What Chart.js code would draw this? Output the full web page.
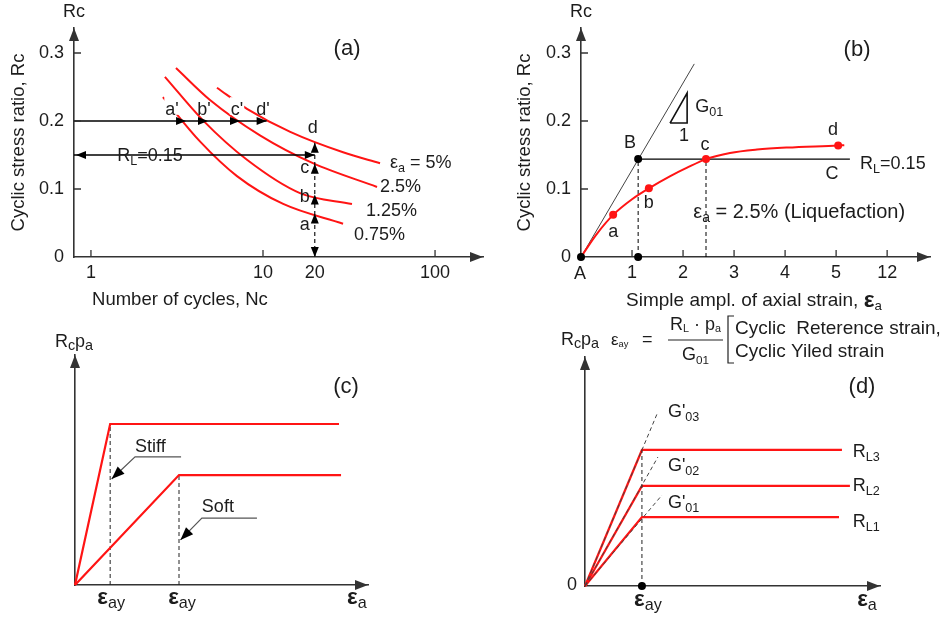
<!DOCTYPE html>
<html><head><meta charset="utf-8">
<script src="https://cdn.jsdelivr.net/npm/chart.js@4.4.1/dist/chart.umd.min.js"></script>
<style>
html,body{margin:0;padding:0;background:#fff;}
#wrap{position:relative;width:949px;height:621px;overflow:hidden;background:#fff;}
#wrap canvas{position:absolute;left:0;top:0;}
</style></head><body>
<div id="wrap">
<canvas id="ca" width="949" height="621"></canvas>
<canvas id="cb" width="949" height="621"></canvas>
<canvas id="cc" width="949" height="621"></canvas>
<canvas id="cd" width="949" height="621"></canvas>
</div>
<script>
// ================= DATA =================
// Panel (a): cyclic stress ratio vs number of cycles, one curve per strain level
const strainLevelsA = ['0.75%', '1.25%', '2.5%', '5%'];
const cyclesA075 = [2.62, 4.30, 7.06, 13.1, 29.2];
const rcA075     = [0.235, 0.170, 0.119, 0.078, 0.049];
const cyclesA125 = [2.69, 4.48, 8.07, 16.4, 32.9];
const rcA125     = [0.265, 0.201, 0.143, 0.094, 0.078];
const cyclesA25  = [3.12, 4.92, 9.6, 19.5, 46.0];
const rcA25      = [0.278, 0.231, 0.179, 0.138, 0.103];
const cyclesA5   = [5.40, 8.07, 14.4, 29.2, 47.9];
const rcA5       = [0.249, 0.218, 0.184, 0.154, 0.138];
const ncAxisMinA = 0.797, ncAxisMaxA = 190;
const rcCheckA = 0.2;                       // horizontal line Rc = 0.2
const ncCheckTipsA = [3.57, 4.79, 7.35, 10.5]; // a', b', c', d'
const primeLabelsA = ["a'", "b'", "c'", "d'"];
const rlA = 0.15;
const ncTargetA = 20;
const rcAtTargetA = [0.064, 0.092, 0.137, 0.168]; // a, b, c, d
const pointLabelsA = ['a', 'b', 'c', 'd'];
const xTicksA = [1, 10, 20, 100];
const yTicksRc = [0, 0.1, 0.2, 0.3];
const rcAxisMax = 0.3368;

// Panel (b): Rc vs simple amplitude of axial strain
const strainB = [0, 0.3, 0.63, 1.0, 1.33, 1.75, 2.07, 2.45, 2.92, 3.45, 4.04, 5.04, 5.16];
const rcB     = [0, 0.033, 0.062, 0.085, 0.101, 0.119, 0.131, 0.144, 0.153, 0.158, 0.161, 0.164, 0.1645];
const markStrainB = [0.63, 1.33, 2.45, 5.04];
const markRcB     = [0.062, 0.101, 0.144, 0.164];
const g01StrainB = [0, 2.22];
const g01RcB     = [0, 0.284];
const rlB = 0.144, strainAtB = 1.12, rlEndB = 5.27, strainLiqB = 2.45;
const triStrainB = [1.745, 2.08, 2.08, 1.745];
const triRcB     = [0.197, 0.241, 0.197, 0.197];
const xTicksB = [1, 2, 3, 4, 5, 6];
const xTickLabelsB = ['1', '2', '3', '4', '5', '12'];
const strainAxisMaxB = 6.84;

// Panel (c): stiff vs soft bilinear models
const stiffX = [0, 1.2, 9.01];
const stiffY = [0, 7.0, 7.0];
const softX  = [0, 3.55, 9.08];
const softY  = [0, 4.78, 4.78];
const stiffLeaderX = [3.62, 2.05, 1.25], stiffLeaderY = [5.57, 5.57, 4.61];
const softLeaderX  = [6.21, 4.33, 3.6],  softLeaderY  = [2.91, 2.91, 1.96];

// Panel (d): three reference strengths with a common yield strain
const yieldD = 1.93;
const rlLevelsD = [3.01, 4.37, 5.94];        // RL1, RL2, RL3
const rlEndD    = [8.61, 8.98, 8.71];
const gExtX     = [2.61, 2.47, 2.47];        // G'01, G'02, G'03 dashed ends
const gExtY     = [3.97, 5.63, 7.60];

// ================= STYLE / HELPERS =================
const FONT = '"Liberation Sans", Arial, Helvetica, sans-serif';
const TEXT = '#1c1c1c';
const AXIS = '#333333';
const RED = '#ff1414';
const W = 949, H = 621;
Chart.defaults.font.family = FONT;
Chart.defaults.color = TEXT;
Chart.defaults.animation = false;
Chart.defaults.events = [];

const pts = (xs, ys) => xs.map((x, i) => ({x, y: ys[i]}));
function line(data, color, width, extra) {
  return Object.assign({data, showLine: true, borderColor: color, backgroundColor: color, borderWidth: width,
    pointRadius: 0, pointHoverRadius: 0, fill: false, clip: false, tension: 0}, extra || {});
}
function dots(data, color, r, extra) {
  return Object.assign({data, showLine: false, pointRadius: r, pointBackgroundColor: color, pointBorderColor: color,
    pointBorderWidth: 0, clip: false}, extra || {});
}
function scaleCfg(o) {
  const c = {
    type: o.type || 'linear', min: o.min, max: o.max, position: o.pos,
    afterFit: s => { if (o.pos === 'left') s.width = o.size; else s.height = o.size; },
    grid: {display: true, drawOnChartArea: false, drawTicks: false},
    border: {display: true, color: AXIS, width: 1.6},
    ticks: {display: !!o.ticks, padding: o.pad || 8, font: {size: 18}, color: TEXT,
      callback: o.fmt || (v => String(v)), autoSkip: false, maxRotation: 0, minRotation: 0},
    title: o.title ? {display: true, text: o.title, font: {size: 18.5}, color: TEXT, padding: {top: 0, bottom: 0}} : {display: false}
  };
  if (o.ticks) c.afterBuildTicks = s => { s.ticks = o.ticks.map(v => ({value: v})); };
  return c;
}
function arrowHead(ctx, tx, ty, ang, len, hw, color) {
  const bx = tx - len * Math.cos(ang), by = ty - len * Math.sin(ang);
  const px = -Math.sin(ang) * hw, py = Math.cos(ang) * hw;
  ctx.save(); ctx.fillStyle = color; ctx.beginPath();
  ctx.moveTo(tx, ty); ctx.lineTo(bx + px, by + py); ctx.lineTo(bx - px, by - py); ctx.closePath(); ctx.fill();
  ctx.restore();
}
function axisArrows(ctx, ca) {
  arrowHead(ctx, ca.right, ca.bottom, 0, 13, 5, AXIS);
  arrowHead(ctx, ca.left, ca.top, -Math.PI / 2, 13, 5, AXIS);
}
function innerTicks(chart) {
  const ctx = chart.ctx, {x, y} = chart.scales, ca = chart.chartArea;
  ctx.save(); ctx.strokeStyle = AXIS; ctx.lineWidth = 1.3; ctx.beginPath();
  x.ticks.forEach(t => { const p = x.getPixelForValue(t.value); ctx.moveTo(p, ca.bottom); ctx.lineTo(p, ca.bottom - 7); });
  y.ticks.forEach(t => { if (t.value === 0) return; const p = y.getPixelForValue(t.value); ctx.moveTo(ca.left, p); ctx.lineTo(ca.left + 7, p); });
  ctx.stroke(); ctx.restore();
}
function parseRich(str) {
  const segs = [], re = /([_*])\{([^}]*)\}/g; let last = 0, m;
  while ((m = re.exec(str))) {
    if (m.index > last) segs.push({t: str.slice(last, m.index), k: ''});
    segs.push({t: m[2], k: m[1]}); last = re.lastIndex;
  }
  if (last < str.length) segs.push({t: str.slice(last), k: ''});
  return segs;
}
function rich(ctx, str, x, y, opt) {
  const o = Object.assign({size: 18, sub: 0.7, subDy: 0.3, bold: 1.25, align: 'left', color: TEXT}, opt || {});
  const segs = parseRich(str);
  const fontOf = s => s.k === '_' ? `${o.size * o.sub}px ${FONT}` : s.k === '*' ? `bold ${o.size * o.bold}px ${FONT}` : `${o.size}px ${FONT}`;
  let w = 0;
  segs.forEach(s => { ctx.font = fontOf(s); s.w = ctx.measureText(s.t).width; w += s.w; });
  let cx = o.align === 'center' ? x - w / 2 : o.align === 'right' ? x - w : x;
  ctx.save();
  if (o.bg) { ctx.fillStyle = '#fff'; ctx.fillRect(cx - 1, y - 0.72 * o.size, w + 2, 0.98 * o.size); }
  ctx.fillStyle = o.color; ctx.textBaseline = 'middle'; ctx.textAlign = 'left';
  segs.forEach(s => { ctx.font = fontOf(s); ctx.fillText(s.t, cx, y + (s.k === '_' ? o.size * o.subDy : 0)); cx += s.w; });
  ctx.restore();
  return w;
}
function drawLabels(chart, list) {
  const ctx = chart.ctx, {x, y} = chart.scales, ca = chart.chartArea;
  list.forEach(L => {
    let px, py;
    if (L.rel) { px = ca.left + L.rel[0]; py = ca.top + L.rel[1]; }
    else { px = x.getPixelForValue(L.d[0]); py = y.getPixelForValue(L.d[1]); }
    if (L.o) { px += L.o[0]; py += L.o[1]; }
    rich(ctx, L.s, px, py, L);
  });
}
function makeChart(id, area, xs, ys, datasets, draw) {
  return new Chart(document.getElementById(id), {
    type: 'scatter',
    data: {datasets},
    options: {
      responsive: false, animation: false, events: [],
      layout: {padding: {left: area.L - area.yW, top: area.T, right: W - area.R, bottom: H - area.B - area.xH}},
      scales: {x: xs, y: ys},
      plugins: {legend: {display: false}, tooltip: {enabled: false}, title: {display: false}}
    },
    plugins: [{id: 'deco_' + id, afterDatasetsDraw: chart => draw(chart, chart.ctx, chart.chartArea)}]
  });
}
const rcFmt = v => (v === 0 ? '0' : v.toFixed(1));
const smooth = {cubicInterpolationMode: 'monotone'};
const dash = [4, 3];

// ================= PANEL (a) =================
makeChart('ca', {L: 74, T: 28, R: 483, B: 257, yW: 66, xH: 30},
  scaleCfg({type: 'logarithmic', min: ncAxisMinA, max: ncAxisMaxA, pos: 'bottom', size: 30, ticks: xTicksA, pad: 5}),
  scaleCfg({min: 0, max: rcAxisMax, pos: 'left', size: 66, ticks: yTicksRc, pad: 10, fmt: rcFmt, title: 'Cyclic stress ratio, Rc'}),
  [
    line([{x: ncAxisMinA, y: rcCheckA}, {x: ncCheckTipsA[3], y: rcCheckA}], '#000', 1.3, {order: 0}),
    line([{x: ncAxisMinA, y: rlA}, {x: ncTargetA, y: rlA}], '#000', 1.3, {order: 0}),
    line([{x: ncTargetA, y: 0}, {x: ncTargetA, y: rcAtTargetA[3]}], '#000', 1.1, {order: 0, borderDash: dash}),
    line(pts(cyclesA075, rcA075), RED, 2, Object.assign({order: 1}, smooth)),
    line(pts(cyclesA125, rcA125), RED, 2, Object.assign({order: 1}, smooth)),
    line(pts(cyclesA25, rcA25), RED, 2, Object.assign({order: 1}, smooth)),
    line(pts(cyclesA5, rcA5), RED, 2, Object.assign({order: 1}, smooth)),
  ],
  (chart, ctx, ca) => {
    const X = v => chart.scales.x.getPixelForValue(v), Y = v => chart.scales.y.getPixelForValue(v);
    innerTicks(chart); axisArrows(ctx, ca);
    ncCheckTipsA.forEach(n => arrowHead(ctx, X(n), Y(rcCheckA), 0, 10, 4, '#000'));
    arrowHead(ctx, ca.left + 2, Y(rlA), Math.PI, 10, 4, '#000');
    arrowHead(ctx, X(ncTargetA), Y(rlA), 0, 10, 4, '#000');
    rcAtTargetA.forEach(r => arrowHead(ctx, X(ncTargetA), Y(r), -Math.PI / 2, 10, 4, '#000'));
    arrowHead(ctx, X(ncTargetA), Y(0), Math.PI / 2, 10, 4, '#000');
    drawLabels(chart, [
      {rel: [0, -16], s: 'Rc', align: 'center'},
      {d: [30.8, 0.306], s: '(a)', size: 22, align: 'center'},
      {d: [2.96, 0.216], s: primeLabelsA[0], align: 'center', bg: true},
      {d: [4.54, 0.216], s: primeLabelsA[1], align: 'center'},
      {d: [7.06, 0.216], s: primeLabelsA[2], align: 'center', bg: true},
      {d: [10.0, 0.216], s: primeLabelsA[3], align: 'center'},
      {d: [ncTargetA, 0.190], o: [-2, 0], s: pointLabelsA[3], align: 'center'},
      {d: [ncTargetA, 0.131], o: [-10, 0], s: pointLabelsA[2], align: 'center'},
      {d: [ncTargetA, 0.088], o: [-10, 0], s: pointLabelsA[1], align: 'center'},
      {d: [ncTargetA, 0.047], o: [-10, 0], s: pointLabelsA[0], align: 'center'},
      {d: [1.42, rlA], o: [0, 1], s: 'R_{L}=0.15'},
      {d: [54.7, 0.138], s: 'ε_{a} = ' + strainLevelsA[3]},
      {d: [47.9, 0.103], s: strainLevelsA[2]},
      {d: [39.7, 0.068], s: strainLevelsA[1]},
      {d: [33.8, 0.032], s: strainLevelsA[0]},
      {d: [3.29, 0], o: [0, 43], s: 'Number of cycles, Nc', align: 'center', size: 18.5},
    ]);
  });

// ================= PANEL (b) =================
makeChart('cb', {L: 581, T: 28, R: 930, B: 257, yW: 67, xH: 30},
  scaleCfg({min: 0, max: strainAxisMaxB, pos: 'bottom', size: 30, ticks: xTicksB, pad: 5,
    fmt: v => { const i = xTicksB.indexOf(v); return i >= 0 ? xTickLabelsB[i] : ''; }}),
  scaleCfg({min: 0, max: rcAxisMax, pos: 'left', size: 67, ticks: yTicksRc, pad: 10, fmt: rcFmt, title: 'Cyclic stress ratio, Rc'}),
  [
    dots([{x: 0, y: 0}, {x: strainAtB, y: rlB}, {x: strainAtB, y: 0}], '#000', 4, {order: 0}),
    dots(pts(markStrainB, markRcB), RED, 4, {order: 1}),
    line(pts(strainB, rcB), RED, 2, Object.assign({order: 2}, smooth)),
    line(pts(g01StrainB, g01RcB), '#444', 1, {order: 3}),
    line([{x: strainAtB, y: rlB}, {x: rlEndB, y: rlB}], '#000', 1.2, {order: 3}),
    line([{x: strainAtB, y: 0}, {x: strainAtB, y: rlB}], '#000', 1, {order: 3, borderDash: dash}),
    line([{x: strainLiqB, y: 0}, {x: strainLiqB, y: rlB}], '#000', 1, {order: 3, borderDash: dash}),
    line(pts(triStrainB, triRcB), '#111', 1.6, {order: 3}),
  ],
  (chart, ctx, ca) => {
    innerTicks(chart); axisArrows(ctx, ca);
    drawLabels(chart, [
      {rel: [0, -16], s: 'Rc', align: 'center'},
      {d: [5.41, 0.304], s: '(b)', size: 22, align: 'center'},
      {d: [0.96, 0.168], s: 'B', align: 'center'},
      {d: [0.63, 0.037], s: 'a', align: 'center'},
      {d: [1.33, 0.079], s: 'b', align: 'center'},
      {d: [2.43, 0.165], s: 'c', align: 'center'},
      {d: [4.94, 0.187], s: 'd', align: 'center'},
      {d: [0, 0], o: [-1, 17], s: 'A', align: 'center'},
      {d: [2.24, 0.221], s: 'G_{01}'},
      {d: [2.02, 0.178], s: '1', align: 'center'},
      {d: [5.47, 0.137], s: 'R_{L}=0.15'},
      {d: [4.92, 0.122], s: 'C', align: 'center'},
      {d: [2.2, 0.066], s: 'ε_{a} = 2.5% (Liquefaction)', size: 20},
      {d: [3.39, 0], o: [0, 44], s: 'Simple ampl. of axial strain, *{ε}_{a}', align: 'center', size: 19, bold: 1.2},
    ]);
  });

// ================= PANEL (c) =================
makeChart('cc', {L: 75, T: 355, R: 368, B: 585, yW: 2, xH: 2},
  scaleCfg({min: 0, max: 10, pos: 'bottom', size: 2}),
  scaleCfg({min: 0, max: 10, pos: 'left', size: 2}),
  [
    line(pts(stiffX, stiffY), RED, 2.2, {order: 1}),
    line(pts(softX, softY), RED, 2.2, {order: 1}),
    line([{x: stiffX[1], y: 0}, {x: stiffX[1], y: stiffY[1]}], '#222', 1, {order: 2, borderDash: dash}),
    line([{x: softX[1], y: 0}, {x: softX[1], y: softY[1]}], '#222', 1, {order: 2, borderDash: dash}),
    line(pts(stiffLeaderX, stiffLeaderY), '#555', 1.2, {order: 2}),
    line(pts(softLeaderX, softLeaderY), '#555', 1.2, {order: 2}),
  ],
  (chart, ctx, ca) => {
    const X = v => chart.scales.x.getPixelForValue(v), Y = v => chart.scales.y.getPixelForValue(v);
    axisArrows(ctx, ca);
    [[stiffLeaderX, stiffLeaderY], [softLeaderX, softLeaderY]].forEach(([lx, ly]) => {
      const ang = Math.atan2(Y(ly[2]) - Y(ly[1]), X(lx[2]) - X(lx[1]));
      arrowHead(ctx, X(lx[2]), Y(ly[2]), ang, 13, 5, '#000');
    });
    drawLabels(chart, [
      {rel: [-1, -13], s: 'R_{c}p_{a}', align: 'center', sub: 0.8, subDy: 0.22},
      {d: [9.25, 8.6], s: '(c)', size: 22, align: 'center'},
      {d: [2.05, 6.0], s: 'Stiff'},
      {d: [4.33, 3.39], s: 'Soft'},
      {d: [stiffX[1], 0], o: [1, 13], s: '*{ε}_{ay}', align: 'center', sub: 0.9, subDy: 0.32},
      {d: [softX[1], 0], o: [3, 13], s: '*{ε}_{ay}', align: 'center', sub: 0.9, subDy: 0.32},
      {d: [9.62, 0], o: [0, 13], s: '*{ε}_{a}', align: 'center', sub: 0.9, subDy: 0.32},
    ]);
  });

// ================= PANEL (d) =================
makeChart('cd', {L: 585, T: 357, R: 880, B: 586, yW: 2, xH: 2},
  scaleCfg({min: 0, max: 10, pos: 'bottom', size: 2}),
  scaleCfg({min: 0, max: 10, pos: 'left', size: 2}),
  [
    dots([{x: yieldD, y: 0}], '#000', 4, {order: 0}),
    ...gExtX.map((gx, i) => line([{x: 0, y: 0}, {x: gx, y: gExtY[i]}], '#444', 1, {order: 1, borderDash: dash})),
    line([{x: yieldD, y: 0}, {x: yieldD, y: rlLevelsD[2]}], '#222', 1, {order: 1, borderDash: dash}),
    ...rlLevelsD.map((r, i) => line([{x: 0, y: 0}, {x: yieldD, y: r}, {x: rlEndD[i], y: r}], RED, 2.2, {order: 2})),
  ],
  (chart, ctx, ca) => {
    axisArrows(ctx, ca);
    drawLabels(chart, [
      {rel: [-5, -17], s: 'R_{c}p_{a}', align: 'center', sub: 0.8, subDy: 0.22},
      {d: [0, 0], o: [-13, -1], s: '0', align: 'center'},
      {d: [9.39, 8.69], s: '(d)', size: 22, align: 'center'},
      {d: [2.81, 7.6], s: "G'_{03}"},
      {d: [2.81, 5.24], s: "G'_{02}"},
      {d: [2.81, 3.62], s: "G'_{01}"},
      {d: [9.08, 5.85], s: 'R_{L3}'},
      {d: [9.08, 4.37], s: 'R_{L2}'},
      {d: [9.08, 2.79], s: 'R_{L1}'},
      {d: [yieldD, 0], o: [6, 14], s: '*{ε}_{ay}', align: 'center', sub: 0.9, subDy: 0.32},
      {d: [9.56, 0], o: [0, 14], s: '*{ε}_{a}', align: 'center', sub: 0.9, subDy: 0.32},
      // formula
      {rel: [26, -17], s: 'ε_{ay}', size: 17, sub: 0.55, subDy: 0.25},
      {rel: [57, -17], s: '='},
      {rel: [85, -32], s: 'R_{L} · p_{a}', sub: 0.6, subDy: 0.25},
      {rel: [97, -2], s: 'G_{01}', sub: 0.65},
      {rel: [150, -28], s: 'Cyclic  Reterence strain,', size: 19},
      {rel: [150, -5], s: 'Cyclic Yiled strain', size: 19},
    ]);
    ctx.save(); ctx.strokeStyle = '#222'; ctx.lineWidth = 1.2; ctx.beginPath();
    ctx.moveTo(ca.left + 83, ca.top - 17); ctx.lineTo(ca.left + 138, ca.top - 17);
    ctx.moveTo(ca.left + 149, ca.top - 41); ctx.lineTo(ca.left + 143, ca.top - 41);
    ctx.lineTo(ca.left + 143, ca.top + 6); ctx.lineTo(ca.left + 149, ca.top + 6);
    ctx.stroke(); ctx.restore();
  });
</script>
</body></html>
